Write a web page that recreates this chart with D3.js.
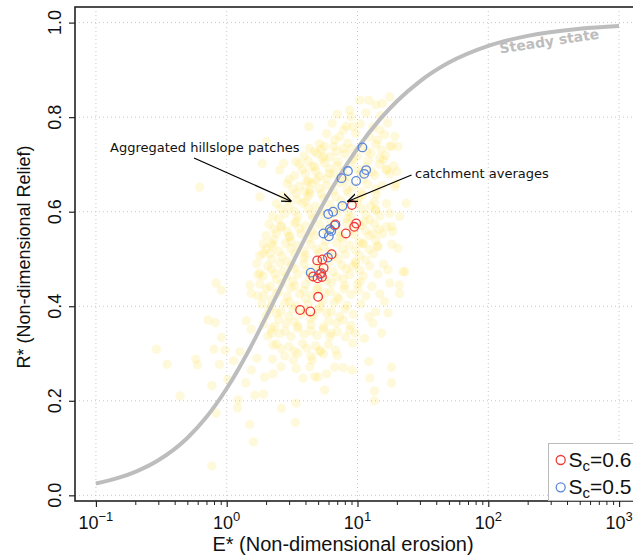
<!DOCTYPE html>
<html><head><meta charset="utf-8">
<script src="https://cdn.jsdelivr.net/npm/d3@7"></script>
<style>body{margin:0;background:#fff}</style>
</head><body><svg id="c" width="633" height="559"></svg>
<script>
// ---------- data ----------
const xTickExponents = [-1, 0, 1, 2, 3];
const yTicks = [0, 0.2, 0.4, 0.6, 0.8, 1.0];

// steady-state curve
const steadyE = [0.1,0.15,0.2,0.3,0.5,0.7,1,1.5,2,3,4,5,7,10,15,20,30,50,100,200,500,1000];
const steadyR = [0.025,0.0374,0.0498,0.0742,0.1214,0.1657,0.226,0.3102,0.3774,0.4765,0.5456,0.5968,0.668,0.7341,0.7968,0.8336,0.8758,0.9154,0.9508,0.972,0.987,0.9928];

// catchment averages, Sc = 0.6 (red)
const sc06E = [9.06,9.77,9.44,8.15,6.78,6.34,5.39,4.92,5.51,5.28,4.95,5.35,4.58,5.0,3.64,4.36];
const sc06R = [0.614,0.575,0.568,0.554,0.573,0.51,0.499,0.497,0.481,0.47,0.459,0.462,0.463,0.42,0.392,0.389];

// catchment averages, Sc = 0.5 (blue)
const sc05E = [10.9,11.65,11.25,8.45,7.54,9.76,7.67,6.51,5.97,6.68,6.15,5.49,6.04,6.3,5.94,4.39,5.16];
const sc05R = [0.736,0.688,0.68,0.686,0.671,0.665,0.612,0.6,0.595,0.571,0.563,0.554,0.548,0.559,0.503,0.471,0.468];

// aggregated hillslope patches (yellow cloud)
const hillslopePatches = [
 [4.25,0.78],[2.01,0.748],[4.28,0.734],[1.87,0.702],[2.73,0.702],[3.39,0.706],[2.54,0.688],[0.62,0.652],
 [4.1,0.664],[4.71,0.695],[1.79,0.631],[3.43,0.625],[4.31,0.646],[2.62,0.568],[2.2,0.533],[3.03,0.547],
 [1.9,0.512],[1.79,0.47],
 [17.6,0.843],[15.5,0.829],[13.8,0.826],[12.2,0.836],[10.4,0.836],[8.7,0.815],[7.8,0.773],[9.2,0.78],
 [6.7,0.752],[7.8,0.734],[5.6,0.738],[4.7,0.727],[14.8,0.773],[14.3,0.752],[17.6,0.738],[20.4,0.738],
 [19.3,0.759],[14.8,0.713],[20,0.685],[16.6,0.688],[19.3,0.653],[23.6,0.618],[17.6,0.597],[21,0.59],
 [18.6,0.558],[16.6,0.568],[13.1,0.554],[20.4,0.523],[14.3,0.526],[11.6,0.498],[22.3,0.473],[17.1,0.477],
 [9.2,0.484],[10.9,0.533],[12.4,0.583],[13.8,0.604],[5.5,0.717],[6.1,0.681],[4.84,0.667],[4.31,0.639],
 [23,0.473],[17.6,0.449],[20.8,0.445],[21,0.427],[16.1,0.41],[13.8,0.388],[17.1,0.386],[12.2,0.378],
 [13.1,0.364],[15.3,0.343],[11.3,0.332],[9.2,0.322],[7.8,0.371],[6.8,0.307],[5.14,0.304],[4.5,0.286],
 [12.2,0.283],[18.2,0.271],[7.8,0.27],[9.1,0.265],[12.4,0.248],[18.2,0.238],[5.8,0.257],[4.97,0.25],
 [5.6,0.223],[13.5,0.221],[13.5,0.2],[4.31,0.272],[6.13,0.336],[8.7,0.35],[9.6,0.343],
 [1.73,0.466],[0.83,0.449],[0.91,0.434],[1.5,0.445],[1.54,0.427],[1.73,0.422],[0.72,0.371],[0.82,0.365],
 [1.41,0.369],[1.54,0.351],[0.91,0.334],[0.29,0.309],[0.8,0.309],[0.97,0.307],[1.26,0.304],[0.58,0.288],
 [0.6,0.276],[0.35,0.277],[0.88,0.277],[1.13,0.285],[1.7,0.29],[2.24,0.288],[1.54,0.265],[1.95,0.25],
 [2.26,0.257],[1.4,0.238],[0.77,0.232],[1.02,0.245],[0.44,0.21],[1.64,0.212],[1.91,0.214],[1.22,0.202],
 [1.21,0.185],[0.83,0.174],[2.62,0.184],[3.39,0.195],[1.5,0.15],[3.35,0.154],[1.6,0.113],[0.77,0.062],
 [3.84,0.248],[4.7,0.251],[3.24,0.286],[2.26,0.318],[2.2,0.343],
 [7.0,0.806],[8.9,0.801],[11.6,0.809],[15.0,0.803],
 [6.4,0.787],[8.2,0.781],[10.5,0.786],[13.1,0.779],[17.0,0.788],
 [5.8,0.765],[7.3,0.759],[9.7,0.766],[12.4,0.758],[16.1,0.763],
 [5.1,0.744],[6.6,0.738],[8.4,0.745],[10.8,0.737],[13.8,0.743],[18.3,0.739],
 [3.9,0.718],[4.9,0.723],[6.2,0.716],[8.0,0.722],[10.0,0.717],[12.7,0.724],[16.4,0.719],
 [3.6,0.701],[4.5,0.696],[5.6,0.703],[7.0,0.697],[8.9,0.702],[11.6,0.695],[14.8,0.7],[18.9,0.697],
 [3.3,0.676],[4.0,0.681],[5.1,0.675],[6.6,0.68],[8.3,0.674],[10.6,0.682],[13.5,0.677],[17.6,0.68],
 [2.9,0.659],[3.6,0.654],[4.5,0.66],[5.8,0.655],[7.3,0.661],[9.3,0.653],[12.0,0.658],[15.5,0.655],[19.7,0.66],
 [2.7,0.634],[3.4,0.639],[4.2,0.633],[5.3,0.638],[6.8,0.632],[8.5,0.64],[10.9,0.635],[13.9,0.637],
 [2.4,0.617],[3.0,0.612],[3.8,0.618],[4.8,0.611],[6.1,0.616],[7.7,0.613],[9.9,0.619],[12.6,0.612],[16.7,0.617],
 [2.25,0.591],[2.8,0.596],[3.5,0.59],[4.4,0.595],[5.5,0.592],[7.0,0.597],[8.9,0.589],[11.6,0.594],[14.8,0.591],
 [2.1,0.574],[2.6,0.569],[3.3,0.575],[4.0,0.57],[5.1,0.573],[6.4,0.568],[8.3,0.576],[10.6,0.571],[13.5,0.574],[18.3,0.569],
 [2.0,0.549],[2.4,0.554],[3.0,0.548],[3.7,0.553],[4.7,0.55],[5.9,0.555],[7.4,0.547],[9.5,0.552],[12.2,0.549],[15.5,0.553],
 [1.9,0.532],[2.25,0.527],[2.8,0.533],[3.5,0.528],[4.4,0.531],[5.5,0.526],[6.9,0.534],[8.7,0.529],[11.1,0.532],[14.3,0.527],[18.3,0.531],
 [1.79,0.507],[2.15,0.512],[2.65,0.506],[3.3,0.511],[4.0,0.508],[5.1,0.513],[6.4,0.505],[8.1,0.51],[10.4,0.507],[13.2,0.511],
 [1.7,0.49],[2.06,0.485],[2.54,0.491],[3.1,0.486],[3.9,0.489],[4.8,0.484],[6.0,0.492],[7.6,0.487],[9.7,0.49],[12.4,0.485],[15.8,0.489],
 [1.9,0.464],[2.33,0.469],[2.85,0.463],[3.5,0.468],[4.4,0.465],[5.5,0.47],[6.9,0.462],[8.7,0.467],[11.1,0.464],[14.3,0.468],
 [1.79,0.447],[2.15,0.442],[2.65,0.448],[3.3,0.443],[4.0,0.446],[5.0,0.441],[6.3,0.449],[8.0,0.444],[10.0,0.447],[12.9,0.442],
 [1.92,0.422],[2.4,0.427],[2.9,0.421],[3.6,0.426],[4.5,0.423],[5.6,0.428],[7.0,0.42],[8.9,0.425],[11.6,0.422],[14.8,0.426],
 [1.85,0.405],[2.2,0.4],[2.78,0.406],[3.4,0.401],[4.2,0.404],[5.2,0.399],[6.6,0.407],[8.3,0.402],[10.6,0.405],
 [2.0,0.38],[2.4,0.385],[3.0,0.379],[3.7,0.384],[4.6,0.381],[5.8,0.386],[7.3,0.378],[9.3,0.383],
 [1.9,0.362],[2.33,0.357],[2.85,0.363],[3.5,0.358],[4.4,0.361],[5.5,0.356],[6.9,0.364],[8.9,0.359],
 [2.06,0.337],[2.54,0.342],[3.1,0.336],[3.9,0.341],[4.9,0.338],[6.3,0.343],[8.1,0.335],
 [2.4,0.32],[3.0,0.315],[3.8,0.321],[4.8,0.316],[6.0,0.319],
 [2.78,0.295],[3.5,0.3],[4.4,0.294],[5.5,0.299],[7.0,0.296],
 [2.6,0.272],[3.4,0.268],[6.7,0.271],
 [3.0,0.668],[4.2,0.664],[5.8,0.67],[8.0,0.665],[11.0,0.669],
 [2.9,0.626],[4.0,0.622],[5.5,0.628],[7.5,0.623],[10.2,0.627],[13.5,0.621],
 [2.5,0.584],[3.4,0.58],[4.6,0.586],[6.2,0.581],[8.4,0.585],[11.3,0.579],
 [2.3,0.541],[3.1,0.537],[4.2,0.543],[5.7,0.538],[7.7,0.542],[10.3,0.536],[13.8,0.54],
 [2.2,0.499],[2.9,0.495],[3.9,0.501],[5.3,0.496],[7.1,0.5],[9.6,0.494],
 [2.4,0.457],[3.2,0.453],[4.3,0.459],[5.8,0.454],[7.8,0.458],[10.5,0.452],
 [2.2,0.414],[3.0,0.41],[4.0,0.416],[5.4,0.411],[7.2,0.415],
 [2.5,0.372],[3.3,0.368],[4.4,0.374],[6.0,0.369],
 [5.3,0.732],[6.9,0.727],[9.0,0.733],[11.8,0.728],[15.2,0.731],
 [4.2,0.707],[5.4,0.712],[7.1,0.706],[9.3,0.711],[12.1,0.708],[15.8,0.71],
 [3.8,0.69],[4.8,0.685],[6.1,0.691],[7.8,0.686],[10.1,0.689],[13.0,0.684],[16.8,0.69],
 [3.2,0.648],[4.0,0.643],[5.1,0.649],[6.5,0.644],[8.3,0.647],[10.7,0.642],[13.8,0.648],
 [2.6,0.606],[3.3,0.601],[4.2,0.607],[5.3,0.602],[6.7,0.605],[8.5,0.6],[10.8,0.606],[13.8,0.603],
 [2.3,0.563],[2.9,0.558],[3.6,0.564],[4.5,0.559],[5.7,0.562],[7.2,0.557],[9.1,0.563],[11.5,0.56],[14.6,0.562],
 [2.0,0.521],[2.5,0.516],[3.1,0.522],[3.9,0.517],[4.9,0.52],[6.1,0.515],[7.7,0.521],[9.7,0.518],[12.3,0.52],
 [2.2,0.479],[2.7,0.474],[3.3,0.48],[4.1,0.475],[5.2,0.478],[6.5,0.473],[8.2,0.479],[10.4,0.476],
 [2.0,0.437],[2.5,0.432],[3.1,0.438],[3.9,0.433],[4.9,0.436],[6.2,0.431],[7.9,0.437],[10.1,0.434],
 [2.1,0.394],[2.6,0.389],[3.2,0.395],[4.0,0.39],[5.0,0.393],[6.3,0.388],[8.0,0.394],
 [2.2,0.352],[2.8,0.347],[3.5,0.353],[4.4,0.348],[5.5,0.351],[7.0,0.346],
 [2.6,0.31],[3.3,0.305],[4.1,0.311],[5.2,0.306]
];

const legendLabels = ["0.6", "0.5"];
const seriesColors = ["#f23a3a", "#5b86de"];

// ---------- drawing ----------
const svg = d3.select("#c");
svg.append("rect").attr("width",633).attr("height",559).attr("fill","#fff");

const pL = 75, pR = 640, pT = 7, pB = 501;
const x = d3.scaleLog().domain([Math.pow(10,-1.16), Math.pow(10,3.16)]).range([pL, pR]);
const y = d3.scaleLinear().domain([-0.012, 1.033]).range([pB, pT]);

const majors = xTickExponents.map(e => Math.pow(10, e));
const minors = [];
xTickExponents.forEach(e => { for (let k = 2; k <= 9; k++) { const v = k * Math.pow(10, e); if (x(v) <= pR) minors.push(v); } });

// grid
const grid = svg.append("g").attr("stroke", "#c8c8c8").attr("stroke-width", 1).attr("stroke-dasharray", "1,3");
grid.selectAll("line.v").data(majors).join("line").attr("class","v")
  .attr("x1", d => x(d)).attr("x2", d => x(d)).attr("y1", pT).attr("y2", pB);
grid.selectAll("line.h").data(yTicks).join("line").attr("class","h")
  .attr("x1", pL).attr("x2", pR).attr("y1", d => y(d)).attr("y2", d => y(d));

// hillslope cloud
svg.append("g").selectAll("circle").data(hillslopePatches).join("circle")
  .attr("cx", d => x(d[0])).attr("cy", d => y(d[1])).attr("r", 4.7)
  .attr("fill", "rgb(255,222,50)").attr("fill-opacity", 0.17);

// steady-state curve
const curvePts = steadyE.map((e, i) => [e, steadyR[i]]);
svg.append("path").datum(curvePts)
  .attr("d", d3.line().x(d => x(d[0])).y(d => y(d[1])).curve(d3.curveMonotoneX))
  .attr("fill", "none").attr("stroke", "#bdbdbd").attr("stroke-width", 4);

// catchment circles
function drawSeries(E, R, color) {
  svg.append("g").selectAll("circle").data(E.map((e, i) => [e, R[i]])).join("circle")
    .attr("cx", d => x(d[0])).attr("cy", d => y(d[1])).attr("r", 4.3)
    .attr("fill", "none").attr("stroke", color).attr("stroke-width", 1.3);
}
drawSeries(sc05E, sc05R, seriesColors[1]);
drawSeries(sc06E, sc06R, seriesColors[0]);

// box
svg.append("rect").attr("x", pL).attr("y", pT).attr("width", pR - pL).attr("height", pB - pT)
  .attr("fill", "none").attr("stroke", "#222").attr("stroke-width", 1.6);

// x axis
const xAxis = d3.axisBottom(x).tickValues(majors).tickSize(6).tickFormat("");
const gx = svg.append("g").attr("transform", `translate(0,${pB})`).call(xAxis);
gx.select(".domain").remove();
gx.selectAll(".tick line").attr("stroke", "#222").attr("stroke-width", 1.2);
const xMinor = d3.axisBottom(x).tickValues(minors).tickSize(4).tickFormat("");
const gxm = svg.append("g").attr("transform", `translate(0,${pB})`).call(xMinor);
gxm.select(".domain").remove();
gxm.selectAll(".tick line").attr("stroke", "#222").attr("stroke-width", 1);

const xl = svg.append("g").attr("font-family", "Liberation Sans, Arial, sans-serif").attr("fill", "#111");
xTickExponents.forEach(e => {
  const t = xl.append("text").attr("x", x(Math.pow(10, e))).attr("y", 529)
    .attr("text-anchor", "middle").attr("font-size", 18);
  t.append("tspan").text("10");
  t.append("tspan").attr("dy", -8).attr("font-size", 13).text(e < 0 ? "\u2212" + Math.abs(e) : String(e));
});

// y axis
const yAxis = d3.axisLeft(y).tickValues(yTicks).tickSize(6).tickFormat("");
const gy = svg.append("g").attr("transform", `translate(${pL},0)`).call(yAxis);
gy.select(".domain").remove();
gy.selectAll(".tick line").attr("stroke", "#222").attr("stroke-width", 1.2);
svg.append("g").selectAll("text").data(yTicks).join("text")
  .attr("transform", d => `translate(61,${y(d)}) rotate(-90)`)
  .attr("text-anchor", "middle").attr("font-family", "Liberation Sans, Arial, sans-serif")
  .attr("font-size", 18).attr("fill", "#111").text(d => d3.format(".1f")(d));

// axis titles
svg.append("text").attr("x", 343).attr("y", 551).attr("text-anchor", "middle")
  .attr("font-family", "Liberation Sans, Arial, sans-serif").attr("font-size", 20).attr("fill", "#111")
  .text("E* (Non-dimensional erosion)");
svg.append("text").attr("transform", `translate(30,257) rotate(-90)`).attr("text-anchor", "middle")
  .attr("font-family", "Liberation Sans, Arial, sans-serif").attr("font-size", 18).attr("fill", "#111")
  .text("R* (Non-dimensional Relief)");

// steady state label
svg.append("text").attr("transform", "translate(550,46) rotate(-8.5)").attr("text-anchor", "middle")
  .attr("font-family", "DejaVu Sans, sans-serif").attr("font-weight", "bold").attr("font-size", 14)
  .attr("fill", "#bdbdbd").text("Steady state");

// annotations
const defs = svg.append("defs");
defs.append("marker").attr("id", "arr").attr("viewBox", "0 0 10 10").attr("refX", 10).attr("refY", 5)
  .attr("markerWidth", 10).attr("markerHeight", 10).attr("markerUnits", "userSpaceOnUse").attr("orient", "auto")
  .append("path").attr("d", "M0,1 L10,5 L0,9").attr("fill", "none").attr("stroke", "#000").attr("stroke-width", 1.3);

const ann = svg.append("g").attr("font-family", "DejaVu Sans, sans-serif").attr("font-size", 13).attr("fill", "#111");
ann.append("text").attr("x", 110).attr("y", 152).text("Aggregated hillslope patches");
ann.append("text").attr("x", 415).attr("y", 178).text("catchment averages");
svg.append("line").attr("x1", 194).attr("y1", 158).attr("x2", 291.5).attr("y2", 201.5)
  .attr("stroke", "#000").attr("stroke-width", 1.3).attr("marker-end", "url(#arr)");
svg.append("line").attr("x1", 411.5).attr("y1", 175).attr("x2", 347.5).attr("y2", 201.5)
  .attr("stroke", "#000").attr("stroke-width", 1.3).attr("marker-end", "url(#arr)");

// legend
const lg = svg.append("g");
lg.append("rect").attr("x", 548.5).attr("y", 443.5).attr("width", 120).attr("height", 57)
  .attr("fill", "#fff").attr("stroke", "#bbb").attr("stroke-width", 1);
legendLabels.forEach((lab, i) => {
  const cy = 460 + i * 27.3;
  lg.append("circle").attr("cx", 560.7).attr("cy", cy).attr("r", 4.5)
    .attr("fill", "none").attr("stroke", seriesColors[i]).attr("stroke-width", 1.3);
  const t = lg.append("text").attr("x", 568.5).attr("y", cy + 7)
    .attr("font-family", "Liberation Sans, Arial, sans-serif").attr("font-size", 21).attr("fill", "#111");
  t.append("tspan").text("S");
  t.append("tspan").attr("dy", 4).attr("font-size", 15).text("c");
  t.append("tspan").attr("dy", -4).text("=" + lab);
});
</script></body></html>
